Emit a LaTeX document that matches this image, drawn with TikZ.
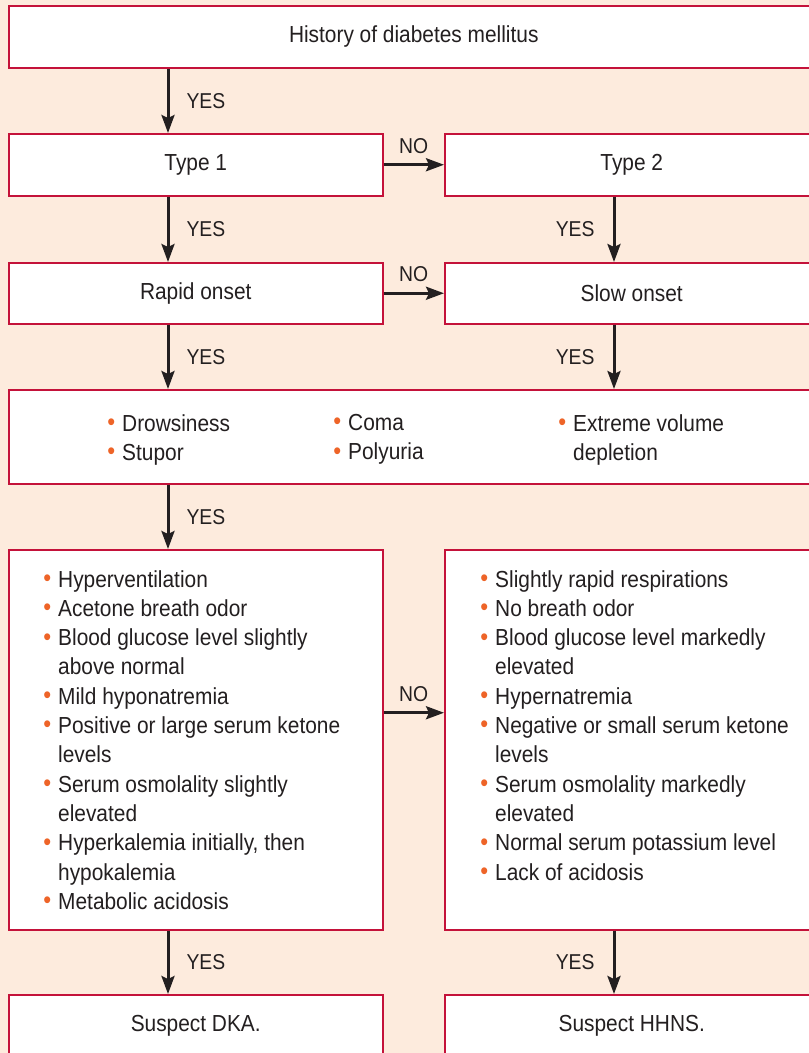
\documentclass[tikz,border=0pt]{standalone}
\usepackage{fontspec}
\setmainfont[FakeStretch=0.9]{Liberation Sans}
\usetikzlibrary{arrows.meta}
\definecolor{peach}{RGB}{253,235,221}
\definecolor{boxred}{RGB}{196,18,58}
\definecolor{dotorange}{RGB}{238,100,40}
\definecolor{ink}{RGB}{35,31,32}
% orange bullet hanging left of the item text
\newcommand{\bul}{\llap{\raisebox{0.6pt}{\textcolor{dotorange}{\fontsize{25}{25}\selectfont\textbullet}}\hspace{7pt}}}

\begin{document}
\begin{tikzpicture}[x=1pt,y=-1pt,
 font=\fontsize{23.2}{29.3}\selectfont, text=ink,
 box/.style={draw=boxred,line width=1.5pt,fill=white,minimum width=374pt,
  minimum height=62pt,inner sep=0pt,anchor=north west},
 wide/.style={box,minimum width=810pt},
 lst/.style={align=left,inner sep=0pt,anchor=north west},
 arr/.style={line width=3pt,draw=ink,-{Stealth[length=18pt,width=13pt,inset=3pt]}},
 lbl/.style={inner sep=0pt,font=\fontsize{21.5}{21.5}\selectfont}]
 \path[use as bounding box] (0,0) rectangle (809,1053);
 \clip (0,0) rectangle (809,1053);
 \fill[peach] (0,0) rectangle (809,1053);

 % boxes
 \node[wide] (hist) at (8,5) {History of diabetes mellitus};
 \node[box] (type1) at (8,133) {Type 1};
 \node[box] (type2) at (444,133) {Type 2};
 \node[box,minimum height=61pt] (rapid) at (8,262) {Rapid onset};
 \node[box,minimum height=61pt] (slow) at (444,262) {Slow onset};
 \node[wide,minimum height=94pt] (sympt) at (8,389) {};
 \node[box,minimum height=380pt] (dka) at (8,549) {};
 \node[box,minimum height=380pt] (hhns) at (444,549) {};
 \node[box] (sdka) at (8,994) {Suspect DKA.};
 \node[box] (shhns) at (444,994) {Suspect HHNS.};

 % symptoms, three columns
 \node[lst] (symA) at (122,414) {\bul Drowsiness\\\bul Stupor};
 \node[lst] (symB) at (348,414) {\bul Coma\\\bul Polyuria};
 \node[lst] (symC) at (573,414) {\bul Extreme volume\\depletion};

 % findings
 \node[lst] (dkalist) at (58,570) {\bul Hyperventilation\\
  \bul Acetone breath odor\\
  \bul Blood glucose level slightly\\above normal\\
  \bul Mild hyponatremia\\
  \bul Positive or large serum ketone\\levels\\
  \bul Serum osmolality slightly\\elevated\\
  \bul Hyperkalemia initially, then\\hypokalemia\\
  \bul Metabolic acidosis};
 \node[lst] (hhnslist) at (495,570) {\bul Slightly rapid respirations\\
  \bul No breath odor\\
  \bul Blood glucose level markedly\\elevated\\
  \bul Hypernatremia\\
  \bul Negative or small serum ketone\\levels\\
  \bul Serum osmolality markedly\\elevated\\
  \bul Normal serum potassium level\\
  \bul Lack of acidosis};

 % connectors
 \coordinate (lcol) at (168,0);
 \coordinate (rcol) at (614,0);
 \draw[arr] (lcol |- hist.south) -- (lcol |- type1.north)
  node[lbl,midway,right=17pt] {YES};
 \draw[arr] (type1.east) -- (type2.west) node[lbl,midway,above=10pt] {NO};
 \draw[arr] (lcol |- type1.south) -- (lcol |- rapid.north)
  node[lbl,midway,right=17pt] {YES};
 \draw[arr] (rcol |- type2.south) -- (rcol |- slow.north)
  node[lbl,midway,left=18pt] {YES};
 \draw[arr] (rapid.east) -- (slow.west) node[lbl,midway,above=10pt] {NO};
 \draw[arr] (lcol |- rapid.south) -- (lcol |- sympt.north)
  node[lbl,midway,right=17pt] {YES};
 \draw[arr] (rcol |- slow.south) -- (rcol |- sympt.north)
  node[lbl,midway,left=18pt] {YES};
 \draw[arr] (lcol |- sympt.south) -- (lcol |- dka.north)
  node[lbl,midway,right=17pt] {YES};
 \draw[arr] ([yshift=27pt]dka.east) -- ([yshift=27pt]hhns.west)
  node[lbl,midway,above=10pt] {NO};
 \draw[arr] (lcol |- dka.south) -- (lcol |- sdka.north)
  node[lbl,midway,right=17pt] {YES};
 \draw[arr] (rcol |- hhns.south) -- (rcol |- shhns.north)
  node[lbl,midway,left=18pt] {YES};
\end{tikzpicture}
\end{document}
